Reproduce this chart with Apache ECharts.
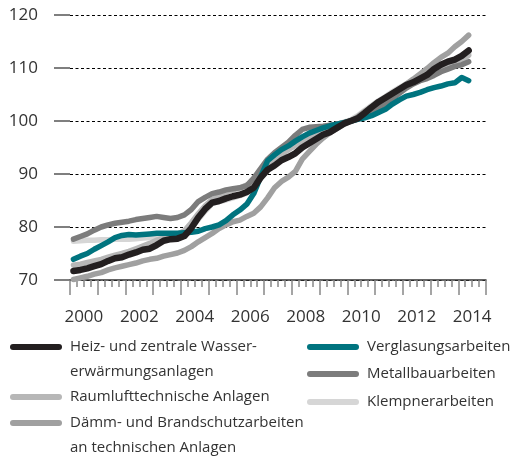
<!DOCTYPE html>
<html>
<head>
<meta charset="utf-8">
<script src="https://cdn.jsdelivr.net/npm/echarts@6/dist/echarts.min.js"></script>
<style>
html, body { margin: 0; padding: 0; background: #fff; }
#chart { width: 511px; height: 459px; }
</style>
</head>
<body>
<div id="chart"></div>
<script>
// Achsenbeschriftung: ein Eintrag je Jahr, nur gerade Jahre werden beschriftet
const years = ['2000', '2001', '2002', '2003', '2004', '2005', '2006', '2007',
    '2008', '2009', '2010', '2011', '2012', '2013', '2014'];
const yTicks = [70, 80, 90, 100, 110, 120];

// Quartalswerte 2000 Q1 bis 2014 Q2 (Index 2010 = 100)
const heiz = [71.7, 71.9, 72.2, 72.6, 73.0, 73.6, 74.1, 74.3, 74.8, 75.2,
    75.7, 75.9, 76.6, 77.4, 77.7, 77.8, 78.3, 79.8, 81.8, 83.4,
    84.6, 84.9, 85.4, 85.8, 86.1, 86.6, 87.4, 89.3, 90.8, 91.6,
    92.6, 93.2, 93.9, 95.0, 95.8, 96.6, 97.4, 97.9, 98.7, 99.5,
    100.0, 100.5, 101.5, 102.6, 103.6, 104.4, 105.2, 106.0, 106.8, 107.3,
    108.0, 108.7, 109.8, 110.6, 111.2, 111.6, 112.3, 113.3];
const raumluft = [72.8, 73.0, 73.3, 73.6, 73.9, 74.3, 74.7, 75.0, 75.4, 75.9,
    76.4, 76.9, 77.5, 77.9, 78.2, 78.6, 79.3, 80.8, 82.5, 84.0,
    85.2, 85.8, 86.6, 87.0, 87.4, 87.9, 88.6, 90.5, 92.0, 93.0,
    93.8, 94.6, 95.4, 96.2, 96.8, 97.5, 98.2, 98.8, 99.3, 99.7,
    100.0, 100.7, 101.6, 102.5, 103.4, 104.2, 105.1, 105.9, 106.6, 107.2,
    107.9, 108.4, 109.0, 109.8, 110.5, 111.0, 111.6, 112.4];
const daemm = [70.1, 70.4, 70.7, 71.1, 71.4, 71.9, 72.3, 72.6, 72.9, 73.2,
    73.6, 73.9, 74.1, 74.5, 74.8, 75.1, 75.6, 76.3, 77.2, 78.0,
    78.8, 79.7, 80.4, 81.0, 81.3, 82.0, 82.6, 83.8, 85.5, 87.4,
    88.6, 89.4, 90.5, 92.8, 94.2, 95.6, 96.8, 97.8, 98.6, 99.4,
    100.0, 100.8, 101.8, 102.7, 103.4, 104.2, 105.2, 106.0, 107.0, 107.9,
    108.9, 109.9, 111.0, 112.0, 112.8, 114.0, 115.0, 116.2];
const verglasung = [73.9, 74.5, 75.0, 75.8, 76.5, 77.2, 78.0, 78.4, 78.6, 78.5,
    78.6, 78.7, 78.8, 78.8, 78.8, 78.8, 78.9, 79.0, 79.2, 79.7,
    80.0, 80.4, 81.2, 82.3, 83.2, 84.3, 86.3, 89.5, 92.5, 93.6,
    94.6, 95.3, 96.2, 97.0, 97.7, 98.2, 98.7, 99.1, 99.4, 99.7,
    100.0, 100.3, 100.6, 101.0, 101.6, 102.2, 103.2, 104.0, 104.7, 105.0,
    105.4, 105.9, 106.3, 106.6, 107.0, 107.2, 108.2, 107.6];
const metallbau = [77.7, 78.2, 78.7, 79.4, 80.0, 80.4, 80.7, 80.9, 81.1, 81.4,
    81.6, 81.8, 82.0, 81.8, 81.6, 81.8, 82.3, 83.3, 84.8, 85.6,
    86.3, 86.6, 87.0, 87.2, 87.4, 87.8, 89.2, 91.0, 92.8, 94.0,
    95.0, 96.0, 97.3, 98.4, 98.8, 98.9, 99.0, 99.2, 99.4, 99.7,
    100.0, 100.4, 101.0, 101.8, 102.5, 103.3, 104.2, 105.2, 106.2, 107.0,
    107.6, 108.0, 108.6, 109.3, 109.8, 110.3, 110.6, 111.2];
const klempner = [77.3, 77.4, 77.5, 77.5, 77.6, 77.6, 77.7, 77.7, 77.7, 77.8,
    77.9, 78.0, 78.1, 78.3, 78.5, 78.7, 79.0, 80.0, 81.4, 83.0,
    84.4, 84.8, 85.1, 85.5, 85.9, 86.4, 87.5, 89.6, 91.5, 92.6,
    93.6, 94.6, 95.6, 96.5, 97.4, 98.0, 98.6, 99.0, 99.4, 99.8,
    100.2, 101.0, 102.0, 102.9, 103.8, 104.6, 105.5, 106.3, 107.0, 107.6,
    108.2, 108.7, 109.3, 110.0, 110.7, 111.4, 112.1, 112.8];

const names = {
    heiz: 'Heiz- und zentrale Wasser-\nerwärmungsanlagen',
    raumluft: 'Raumlufttechnische Anlagen',
    daemm: 'Dämm- und Brandschutzarbeiten\nan technischen Anlagen',
    verglasung: 'Verglasungsarbeiten',
    metallbau: 'Metallbauarbeiten',
    klempner: 'Klempnerarbeiten'
};

const colors = {
    heiz: '#231f20',
    raumluft: '#b7b7b7',
    daemm: '#a0a0a0',
    verglasung: '#00747f',
    metallbau: '#7c7c7c',
    klempner: '#d6d6d6'
};

const font = '"Open Sans", "Noto Sans", sans-serif';
const textColor = '#333';

const myChart = echarts.init(document.getElementById('chart'));

// x-Position = Quartalsmitte (4 Quartale je Jahr)
const toPoints = (arr) => arr.map((v, i) => [i + 0.5, v]);

const lineSeries = (key, data) => ({
    name: names[key],
    type: 'line',
    xAxisIndex: 0,
    data: toPoints(data),
    showSymbol: false,
    symbol: 'none',
    silent: true,
    lineStyle: { color: colors[key], width: key === 'heiz' ? 6.5 : 5.5, cap: 'round', join: 'round' }
});

// Legende in zwei Spalten
const legendItems = [
    { key: 'heiz', x: 13, y: 347 },
    { key: 'raumluft', x: 13, y: 397 },
    { key: 'daemm', x: 13, y: 423 },
    { key: 'verglasung', x: 310, y: 347 },
    { key: 'metallbau', x: 310, y: 374 },
    { key: 'klempner', x: 310, y: 402 }
];
const legendGraphics = [];
legendItems.forEach(item => {
    legendGraphics.push({
        type: 'line',
        shape: { x1: item.x, y1: item.y, x2: item.x + 46, y2: item.y },
        style: { stroke: colors[item.key], lineWidth: 6, lineCap: 'round' }
    });
    legendGraphics.push({
        type: 'text',
        x: item.x + 57,
        y: item.y - 12.5,
        style: {
            text: names[item.key],
            font: '15px ' + font,
            fill: textColor,
            lineHeight: 25,
            verticalAlign: 'top'
        }
    });
});

const option = {
    backgroundColor: '#fff',
    animation: false,
    grid: { left: 70, right: 25, top: 15, bottom: 179 },
    xAxis: [
        {
            type: 'value',
            min: 0,
            max: 60,
            interval: 4,
            axisLine: { show: true, lineStyle: { color: '#333', width: 1.5 } },
            axisTick: { show: true, length: 15, lineStyle: { color: '#888', width: 1.5 } },
            minorTick: { show: true, splitNumber: 4, length: 7, lineStyle: { color: '#888', width: 1.5 } },
            axisLabel: { show: false },
            splitLine: { show: false }
        },
        {
            type: 'category',
            position: 'bottom',
            data: years,
            boundaryGap: true,
            axisLine: { show: false },
            axisTick: { show: false },
            splitLine: { show: false },
            axisLabel: {
                interval: 0,
                margin: 29,
                color: textColor,
                fontSize: 17,
                fontFamily: font,
                formatter: (v, i) => (i % 2 === 0 ? v : '')
            }
        }
    ],
    yAxis: {
        type: 'value',
        min: yTicks[0],
        max: yTicks[yTicks.length - 1],
        interval: 10,
        axisLine: { show: false },
        axisTick: { show: true, length: 16, lineStyle: { color: '#555', width: 1.5 } },
        axisLabel: { margin: 32, color: textColor, fontSize: 17, fontFamily: font },
        splitLine: { show: true, lineStyle: { color: '#000', width: 1, type: [3, 2.5] } }
    },
    series: [
        lineSeries('klempner', klempner),
        lineSeries('raumluft', raumluft),
        lineSeries('daemm', daemm),
        lineSeries('metallbau', metallbau),
        lineSeries('verglasung', verglasung),
        lineSeries('heiz', heiz)
    ],
    graphic: legendGraphics
};

myChart.setOption(option);
</script>
</body>
</html>
